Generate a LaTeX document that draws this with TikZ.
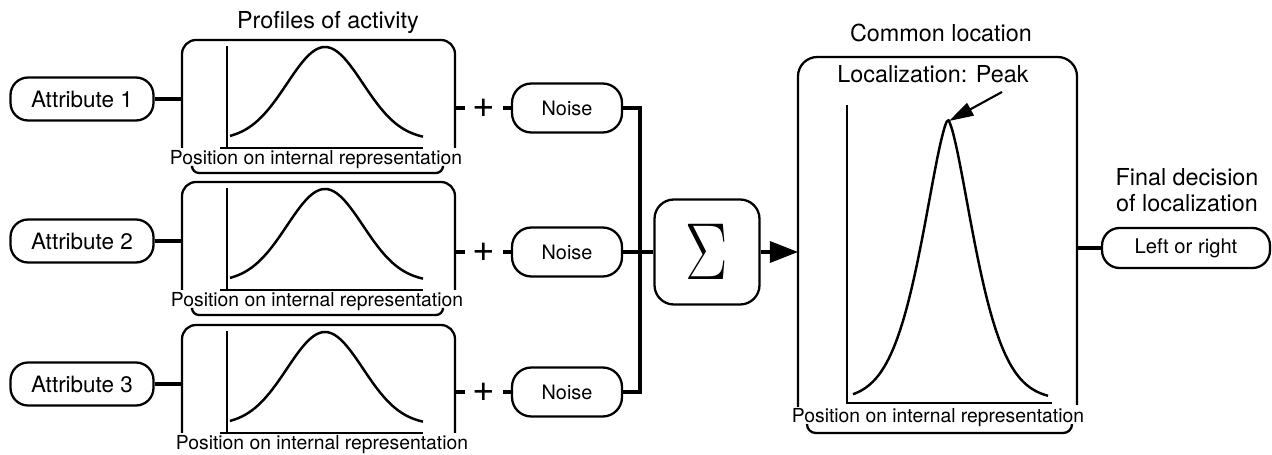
\documentclass[tikz,border=0pt]{standalone}
\usepackage[no-math]{fontspec}
\setmainfont{TeX Gyre Heros}
\usetikzlibrary{arrows.meta}
\begin{document}
\begin{tikzpicture}[x=0.02cm,y=-0.02cm,
  box/.style={draw, line width=1.3pt},
  pillA/.style={draw, line width=1.3pt, rounded corners=10pt, inner sep=0pt,
    minimum width=2.86cm, minimum height=0.86cm, font=\fontsize{12.8}{14}\selectfont},
  pillN/.style={draw, line width=1.3pt, rounded corners=11pt, inner sep=0pt,
    minimum width=2.2cm, minimum height=0.98cm, font=\fontsize{11.3}{13}\selectfont},
  plusn/.style={inner sep=0pt, minimum width=0.76cm, font=\fontsize{22}{22}\selectfont},
  conn/.style={line width=1.9pt},
  curve/.style={line width=1.4pt},
  axisl/.style={line width=1.1pt},
  lbl/.style={inner sep=0pt, font=\fontsize{11}{12}\selectfont},
  ttl/.style={inner sep=0pt, font=\fontsize{13.3}{15}\selectfont, align=center}]
\useasboundingbox (0,0) rectangle (1272,455);

% title
\node[ttl] (t1) at (328,23) {Profiles of activity};

% three attribute rows
\foreach \T/\i/\ay/\ny/\lx in {40/1/99/108/316, 182/2/241/252/317, 325/3/384/392/322} {
  \node[pillA] (a\i) at (82,\ay) {Attribute \i};
  \coordinate (bl\i) at (182,\ay);
  \coordinate (br\i) at (455,\ny);
  \draw[box, rounded corners=8pt] (182,{\T+108}) -- (182,\T) -- (455,\T) -- (455,{\T+108});
  \draw[axisl] (227,{\T+6}) -- (227,{\T+108});
  \draw[axisl] (220,{\T+108}) -- (423,{\T+108});
  \draw[curve] plot[domain=230:423, samples=70, smooth]
     (\x, {\T+100-93*exp(-(\x-325)*(\x-325)/2888)});
  \node[lbl] (pos\i) at (\lx,{\T+120}) {Position on internal representation};
  \node[plusn] (pl\i) at (484,\ny) {+};
  \node[pillN] (n\i) at (567,\ny) {Noise};
  \draw[conn] (a\i) -- (bl\i);
  \draw[conn] (br\i) -- (pl\i);
  \draw[conn] (pl\i) -- (n\i);
}
\foreach \T in {40,182} {
  \draw[box, rounded corners=4pt] (192,{\T+128}) -- (192,{\T+133}) -- (443,{\T+133}) -- (443,{\T+128});
}

% bus and sum
\coordinate (bt) at (640,108);
\coordinate (bb) at (640,392);
\draw[conn] (n1.east) -- (bt) -- (bb) -- (n3.east);
\node[draw, line width=1.3pt, rounded corners=11pt, minimum size=2.1cm, inner sep=0pt] (sig) at (707,252)
  {\fontsize{24.88}{26}\selectfont\scalebox{1.45}[1.85]{$\Sigma$}};
\draw[conn] (n2.east) -- (sig.west);

% common location box
\node[ttl] (t2) at (941,33) {Common location};
\coordinate (Bl) at (798,252);
\coordinate (Br) at (1077,248);
\draw[box, rounded corners=11pt] (798,407) -- (798,57) -- (1077,57) -- (1077,405);
\draw[conn, -{Triangle[length=16pt,width=12pt]}] (sig.east) -- (Bl);
\node[ttl] (loc) at (933,74) {Localization: Peak};
\draw[axisl] (847,105) -- (847,403) -- (1052,403);
\draw[curve] plot[domain=853:1048, samples=101, smooth]
  (\x, {400-280*exp(-exp(1.5*ln((abs(\x-948)+0.01)/38.5)))});
\coordinate (pk) at (949,121);
\coordinate (ps) at (1002,92);
\draw[line width=1.2pt, -{Triangle[length=14pt,width=8pt]}] (ps) -- (pk);
\node[lbl] (pos4) at (938,418) {Position on internal representation};
\draw[box, rounded corners=5pt] (807,425) -- (807,433) -- (1072,433) -- (1072,425);

% final decision
\node[ttl, font=\fontsize{13.3}{14.5}\selectfont] (t3) at (1187,190) {Final decision\\of localization};
\node[draw, line width=1.3pt, rounded corners=10pt, inner sep=0pt, minimum width=3.36cm,
  minimum height=0.8cm, font=\fontsize{11.5}{13}\selectfont] (lr) at (1186,248) {Left or right};
\draw[conn] (Br) -- (lr.west);
\end{tikzpicture}
\end{document}
